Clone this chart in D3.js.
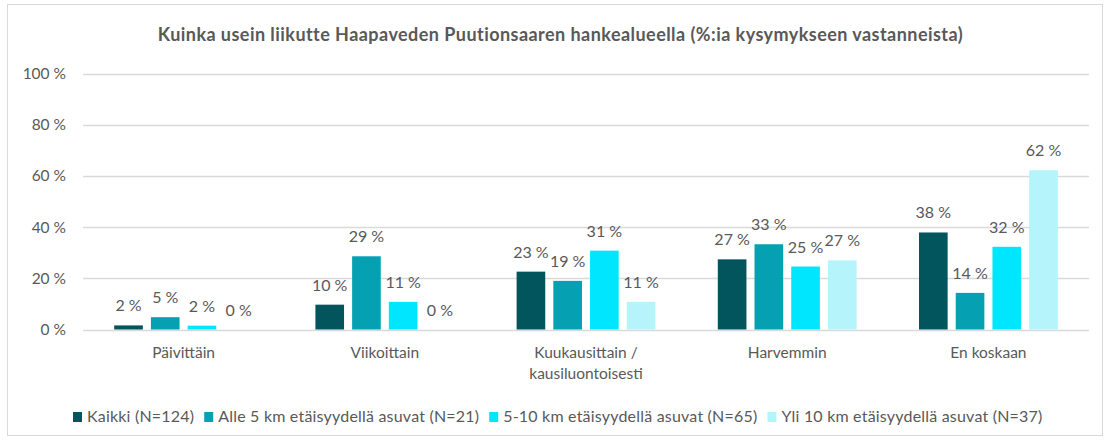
<!DOCTYPE html>
<html>
<head>
<meta charset="utf-8">
<script src="https://cdn.jsdelivr.net/npm/d3@7"></script>
<style>
  body { margin: 0; background: #fff; }
  text { font-family: Lato, "Open Sans", sans-serif; }
</style>
</head>
<body>
<div id="chart"></div>
<script>
// data
const categories = ["Päivittäin", "Viikoittain", "Kuukausittain / kausiluontoisesti", "Harvemmin", "En koskaan"];
const seriesNames = [
    "Kaikki (N=124)",
    "Alle 5 km etäisyydellä asuvat (N=21)",
    "5-10 km etäisyydellä asuvat (N=65)",
    "Yli 10 km etäisyydellä asuvat (N=37)"
];
const kaikki = [1.6, 9.7, 22.6, 27.4, 37.9];
const alle5 = [4.8, 28.6, 19.0, 33.3, 14.3];
const km5to10 = [1.5, 10.8, 30.8, 24.6, 32.3];
const yli10 = [0, 0, 10.8, 27.0, 62.2];
const yTicks = [0, 20, 40, 60, 80, 100];

const seriesValues = [kaikki, alle5, km5to10, yli10];
const colors = ["#03555D", "#05A0B1", "#00E6FE", "#B5F4FB"];

const W = 1109, H = 441;
const plot = {left: 83, right: 1089, top: 73.5, bottom: 329.5};

const svg = d3.select("#chart")
    .append("svg")
    .attr("width", W)
    .attr("height", H);

// chart border
svg.append("rect")
    .attr("x", 7.5).attr("y", 4.5)
    .attr("width", 1095).attr("height", 431)
    .attr("fill", "#fff")
    .attr("stroke", "#D9D9D9");

const x0 = d3.scaleBand()
    .domain(categories)
    .range([plot.left, plot.right]);

const x1 = d3.scaleBand()
    .domain(d3.range(seriesNames.length))
    .range([31.2, x0.bandwidth() - 31.2])
    .paddingInner(0.22);

const y = d3.scaleLinear()
    .domain([0, 100])
    .range([plot.bottom, plot.top]);

// gridlines
svg.append("g")
    .selectAll("line")
    .data(yTicks)
    .enter()
    .append("line")
    .attr("x1", plot.left)
    .attr("x2", plot.right)
    .attr("y1", d => Math.round(y(d)) + 0.5)
    .attr("y2", d => Math.round(y(d)) + 0.5)
    .attr("stroke", "#D9D9D9")
    .attr("stroke-width", 1.3);

// y axis labels
const yAxis = svg.append("g")
    .attr("transform", `translate(${plot.left},0)`)
    .call(d3.axisLeft(y).tickValues(yTicks).tickSize(0).tickPadding(17).tickFormat(d => d + " %"));
yAxis.select(".domain").remove();
yAxis.selectAll("text")
    .style("font-family", "Lato, sans-serif")
    .style("font-size", "15.5px")
    .attr("fill", "#595959");

// bars
const groups = svg.append("g")
    .selectAll("g")
    .data(categories)
    .enter()
    .append("g")
    .attr("transform", d => `translate(${x0(d)},0)`);

groups.selectAll("rect")
    .data((d, i) => seriesValues.map((s, j) => ({j: j, v: s[i]})))
    .enter()
    .append("rect")
    .attr("x", d => x1(d.j))
    .attr("y", d => y(d.v))
    .attr("width", x1.bandwidth())
    .attr("height", d => y(0) - y(d.v))
    .attr("fill", d => colors[d.j]);

groups.selectAll("text")
    .data((d, i) => seriesValues.map((s, j) => ({j: j, v: s[i]})))
    .enter()
    .append("text")
    .attr("x", d => x1(d.j) + x1.bandwidth() / 2)
    .attr("y", d => y(d.v) - 14)
    .attr("text-anchor", "middle")
    .attr("font-size", "16px")
    .attr("fill", "#595959")
    .text(d => Math.round(d.v) + " %");

// category labels
const xLabels = svg.append("g")
    .selectAll("text")
    .data(categories)
    .enter()
    .append("text")
    .attr("x", d => x0(d) + x0.bandwidth() / 2)
    .attr("y", 358)
    .attr("text-anchor", "middle")
    .attr("font-size", "15.5px")
    .attr("fill", "#595959");

xLabels.selectAll("tspan")
    .data(d => d.indexOf(" / ") > 0 ? [d.split(" / ")[0] + " /", d.split(" / ")[1]] : [d])
    .enter()
    .append("tspan")
    .attr("x", function() { return d3.select(this.parentNode).attr("x"); })
    .attr("dy", (d, i) => i === 0 ? 0 : 21)
    .text(d => d);

// title
svg.append("text")
    .attr("x", 560.5)
    .attr("y", 41)
    .attr("text-anchor", "middle")
    .attr("font-size", "18px")
    .attr("font-weight", "bold")
    .attr("letter-spacing", "0.45px")
    .attr("fill", "#595959")
    .text("Kuinka usein liikutte Haapaveden Puutionsaaren  hankealueella (%:ia kysymykseen vastanneista)");

// legend
const legend = svg.append("g").attr("transform", "translate(73,0)");
let lx = 0;
seriesNames.forEach((name, i) => {
    const item = legend.append("g").attr("transform", `translate(${lx},0)`);
    item.append("rect")
        .attr("x", 0).attr("y", 412)
        .attr("width", 9).attr("height", 10)
        .attr("fill", colors[i]);
    const t = item.append("text")
        .attr("x", 14)
        .attr("y", 421.5)
        .attr("font-size", "16px")
        .attr("letter-spacing", "0.2px")
        .attr("fill", "#595959")
        .text(name);
    lx += 14 + t.node().getComputedTextLength() + 10;
});
</script>
</body>
</html>
